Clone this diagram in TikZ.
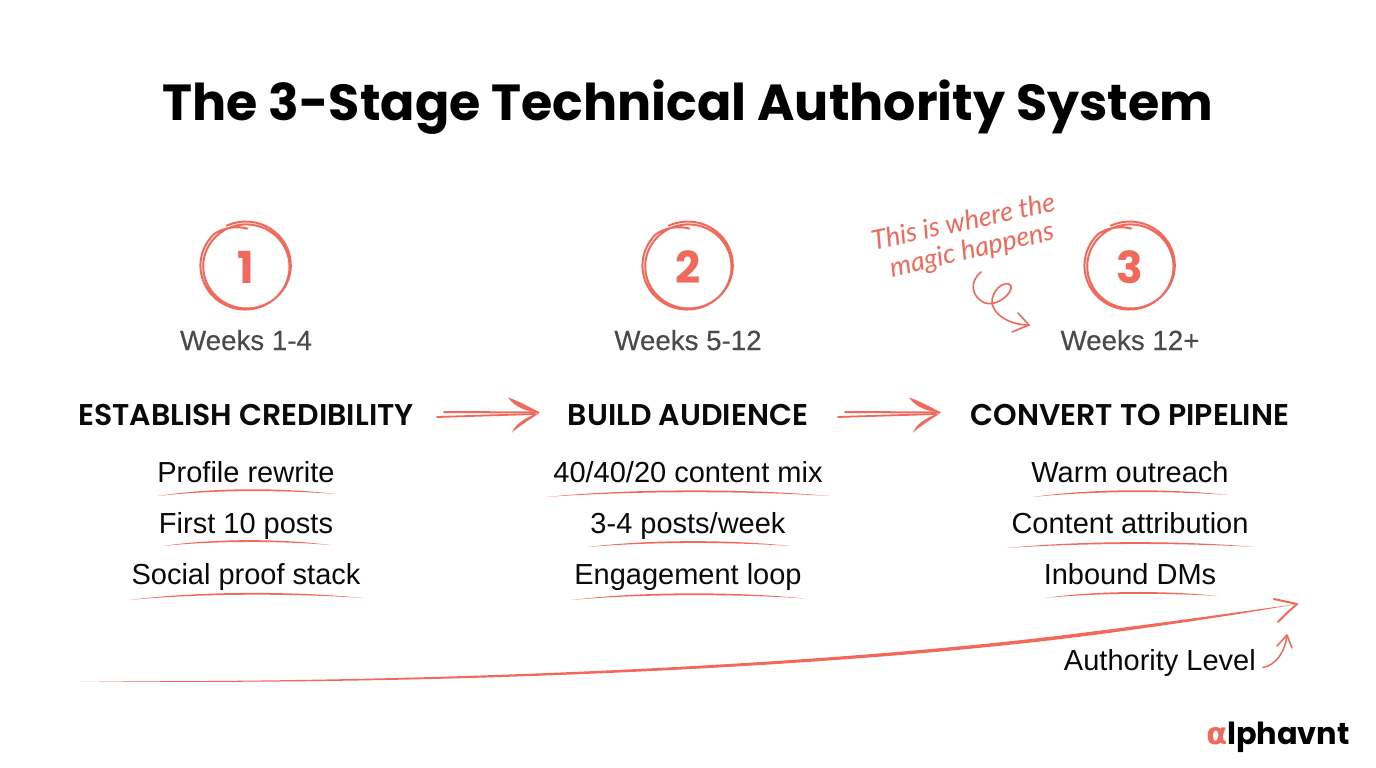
\documentclass[tikz,border=0pt]{standalone}
\usepackage{fontspec}
\setmainfont{Liberation Sans}
\newfontfamily\titlef{Poppins}[UprightFont=* Bold]
\newfontfamily\headf{Poppins}[UprightFont=* SemiBold]
\newfontfamily\numf{Poppins}[UprightFont=* Bold]
\newfontfamily\handf{Lato}[UprightFont=* Italic]
\newfontfamily\alphaf{DejaVu Sans}
\newfontfamily\weekf{Liberation Sans}[FakeBold=0.3]
\definecolor{coral}{HTML}{F2695B}
\definecolor{weekgray}{HTML}{4A4A4A}
\definecolor{ink}{HTML}{0A0A0A}
\usetikzlibrary{calc}
\tikzset{
  titletext/.style={font=\titlef\fontsize{50.7}{52}\selectfont,text=black,inner sep=0pt,anchor=base},
  numtext/.style={font=\numf\fontsize{44}{44}\selectfont,text=coral,inner sep=0pt,anchor=base},
  weektext/.style={font=\weekf\fontsize{27.7}{28}\selectfont,text=weekgray,inner sep=0pt,anchor=base},
  headtext/.style={font=\headf\fontsize{30}{30}\selectfont,text=ink,inner sep=0pt,anchor=base},
  itemtext/.style={font=\fontsize{29}{28}\selectfont,text=ink,inner sep=0pt,anchor=base},
  handtext/.style={font=\handf\fontsize{27}{28}\selectfont,text=coral,inner sep=0pt},
  sketch/.style={draw=coral,line cap=round,line join=round,fill=none},
  inkfill/.style={fill=coral,draw=none}
}
\newcommand{\ringat}[2]{%
  \draw[sketch,line width=2pt] plot[smooth,samples=130,domain=88:835]
    ({#1+(1.02*(43.3+1.5*sin(\x*0.5+25))-7*max(0,1-(\x-88)/45))*cos(\x)},
     {#2-(43+1.5*sin(\x*0.5+25)-7*max(0,1-(\x-88)/45))*sin(\x)});}
% tapered underline: x0 x1 yLeft yRight yMiddle
\newcommand{\uline}[5]{%
  \fill[inkfill] (#1,#3) .. controls ({#1+0.3*(#2-#1)},{#5-1.6}) and ({#1+0.7*(#2-#1)},{#5-1.6}) .. (#2,#4)
     .. controls ({#1+0.7*(#2-#1)},{#5+0.8}) and ({#1+0.3*(#2-#1)},{#5+0.8}) .. (#1,#3) -- cycle;}
\newcommand{\handarrow}[2]{%
  \draw[sketch,line width=2pt] ($(#2)+(-96,-0.5)$) -- ($(#2)+(-2,0)$);
  \draw[sketch,line width=1.8pt] (#1) -- ($(#2)+(-5,1.5)$);
  \fill[inkfill] ($(#2)+(-32,-15)$) .. controls ($(#2)+(-20,-11)$) and ($(#2)+(-10,-5)$) .. (#2)
      .. controls ($(#2)+(-12,-1)$) and ($(#2)+(-24,-4)$) .. ($(#2)+(-32,-15)$) -- cycle;
  \fill[inkfill] ($(#2)+(-28,20)$) .. controls ($(#2)+(-24,10)$) and ($(#2)+(-12,4)$) .. (#2)
      .. controls ($(#2)+(-10,7)$) and ($(#2)+(-20,13)$) .. ($(#2)+(-28,20)$) -- cycle;}
\begin{document}
\begin{tikzpicture}[x=1pt,y=-1pt]
\useasboundingbox (0,0) rectangle (1376,768);
\fill[white] (0,0) rectangle (1376,768);

\node[titletext] (title) at (688,121) {The 3-Stage Technical Authority System};

\node[numtext] (n1) at (246,283) {1};
\node[numtext] (n2) at (688,283) {2};
\node[numtext] (n3) at (1130,283) {3};
\ringat{246}{266}
\ringat{688}{266}
\ringat{1130}{266}

\node[weektext] (w1) at (246,350) {Weeks 1-4};
\node[weektext] (w2) at (688,350) {Weeks 5-12};
\node[weektext] (w3) at (1130,350) {Weeks 12+};

\node[headtext] (h1) at (246,425) {ESTABLISH CREDIBILITY};
\node[headtext] (h2) at (688,425) {BUILD AUDIENCE};
\node[headtext] (h3) at (1130,425) {CONVERT TO PIPELINE};

\node[itemtext] (a1) at (246,482.5) {Profile rewrite};
\node[itemtext] (a2) at (246,533) {First 10 posts};
\node[itemtext] (a3) at (246,584) {Social proof stack};
\node[itemtext] (b1) at (688,482.5) {40/40/20 content mix};
\node[itemtext] (b2) at (688,533) {3-4 posts/week};
\node[itemtext] (b3) at (688,584) {Engagement loop};
\node[itemtext] (c1) at (1130,482.5) {Warm outreach};
\node[itemtext] (c2) at (1130,533) {Content attribution};
\node[itemtext] (c3) at (1130,584) {Inbound DMs};

\uline{158}{335}{496}{494}{489}
\uline{163}{330}{546}{545}{540}
\uline{129}{363}{600}{598}{592.5}
\uline{546}{830}{497}{496}{490}
\uline{588}{790}{547}{546}{541}
\uline{571}{805}{600}{598.5}{593}
\uline{1033}{1228}{497}{495}{490}
\uline{1007}{1255}{548}{547}{542}
\uline{1045}{1217}{598}{596}{592}

\coordinate (a1s) at (437,417);
\coordinate (a1e) at (540,412.5);
\coordinate (a2s) at (838,417);
\coordinate (a2e) at (941,412.5);
\handarrow{a1s}{a1e}
\handarrow{a2s}{a2e}

\node[handtext,rotate=12] (note1) at (963,221) {This is where the};
\node[handtext,rotate=13] (note2) at (972,251) {magic happens};
\coordinate (curlS) at (981,272);
\coordinate (curlE) at (1029,325);
\draw[sketch,line width=1.6pt] (curlS) .. controls (970,281) and (970,296) .. (985,303)
   .. controls (997,307) and (1013,293) .. (1011,286)
   .. controls (1008,280) and (994,286) .. (992,300)
   .. controls (991,313) and (1008,325) .. (curlE);
\draw[sketch,line width=1.6pt] (1018,313) -- (curlE) -- (1012,332);

\coordinate (growS) at (80,681);
\coordinate (growE) at (1297,604);
\fill[inkfill] (growS) .. controls (450,686.2) and (850,666.7) .. (1095,634.8)
   .. controls (1180,623.5) and (1250,612.5) .. (growE)
   .. controls (1250,610.5) and (1180,620.5) .. (1095,631.2)
   .. controls (850,663.5) and (450,683.5) .. (growS) -- cycle;
\draw[sketch,line width=2pt] (1274,599) .. controls (1285,601.5) .. (growE) .. controls (1289,611) .. (1278,622);

\node[itemtext,anchor=base east] (auth) at (1256,670.5) {Authority Level};
\coordinate (authE) at (1287,635);
\draw[sketch,line width=1.5pt] ($(auth.base east)+(7,-3)$) .. controls (1276,665) and (1285,652) .. (authE);
\draw[sketch,line width=1.5pt] (1277,646) -- (authE) -- (1292,648);

\node[font=\titlef\fontsize{30.4}{33}\selectfont,text=black,inner sep=0pt,anchor=base east] (logo) at (1350,744.5)
  {{\alphaf\bfseries\textcolor{coral}{α}}lphavnt};
\end{tikzpicture}
\end{document}
